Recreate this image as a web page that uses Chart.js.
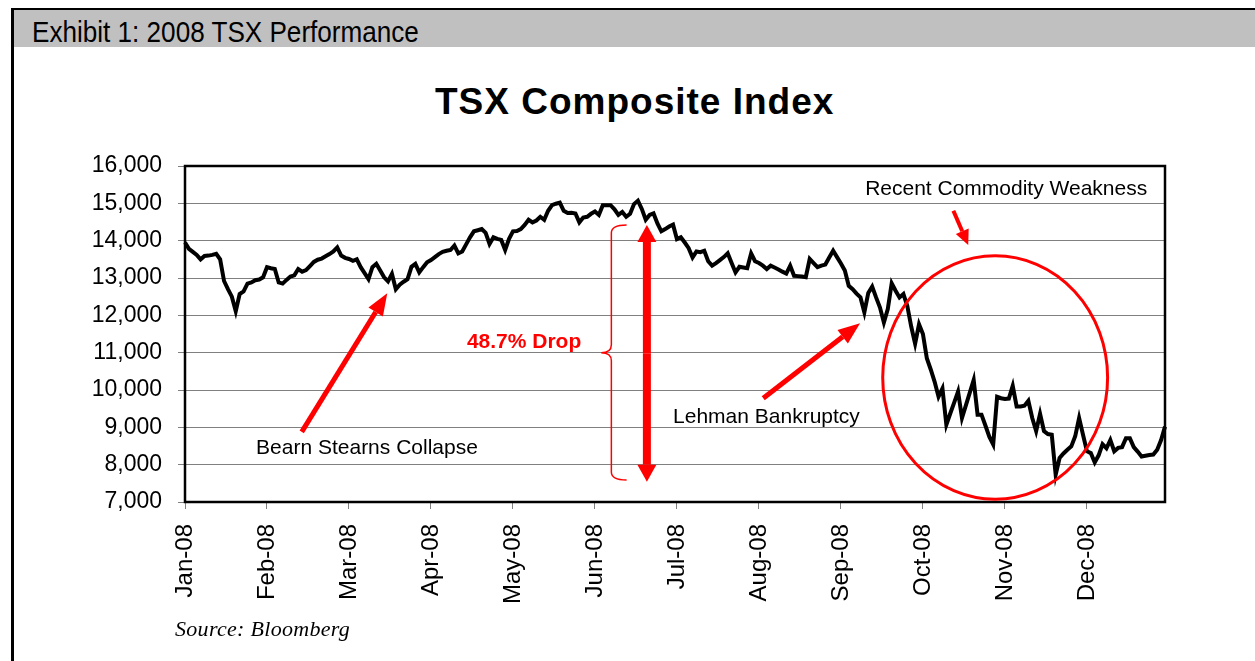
<!DOCTYPE html>
<html>
<head>
<meta charset="utf-8">
<title>TSX Composite Index 2008</title>
<script src="https://cdn.jsdelivr.net/npm/chart.js@4.4.1/dist/chart.umd.min.js"></script>
<style>
  html, body { margin: 0; padding: 0; background: #fff; }
  body { width: 1255px; height: 661px; position: relative; overflow: hidden; font-family: "Liberation Sans", Arial, sans-serif; }
  #frame { position: absolute; left: 11px; top: 8px; width: 1260px; height: 670px; border-left: 3px solid #000; border-top: 2px solid #000; }
  #header { position: absolute; left: 14px; top: 10px; width: 1241px; height: 37px; background: #c0c0c0; }
  #header span { position: absolute; left: 18px; top: 4px; font-size: 30px; line-height: 36px; white-space: nowrap; color: #000; transform: scaleX(0.87); transform-origin: left center; }
  #title { position: absolute; left: 435px; top: 83px; font: bold 37px/1 "Liberation Sans", Arial, sans-serif; letter-spacing: 1px; white-space: nowrap; color: #000; }
  #chartBox { position: absolute; left: 20px; top: 50px; width: 1150px; height: 567px; }
  #source { position: absolute; left: 175px; top: 618px; font: italic 22px/1 "Liberation Serif", "Times New Roman", serif; letter-spacing: 0.3px; color: #000; }
</style>
</head>
<body>
<div id="frame"></div>
<div id="header"><span>Exhibit 1: 2008 TSX Performance</span></div>
<div id="title">TSX Composite Index</div>
<div id="chartBox"><canvas id="tsxChart"></canvas></div>
<div id="source">Source: Bloomberg</div>
<script>
// daily closes (one row per 21 trading days)
const tsxClose = [
  13950, 13780, 13700, 13620, 13500, 13590, 13600, 13620, 13650, 13500, 12920, 12700, 12500, 12110, 12570, 12640, 12850, 12880, 12940, 12960, 13020,
  13290, 13260, 13240, 12880, 12850, 12950, 13040, 13070, 13240, 13170, 13210, 13320, 13430, 13490, 13520, 13580, 13640, 13710, 13820, 13600, 13540,
  13510, 13460, 13500, 13290, 13130, 12970, 13290, 13380, 13200, 13020, 12910, 13110, 12700, 12820, 12900, 12970, 13300, 13380, 13150, 13290, 13420,
  13480, 13560, 13640, 13700, 13730, 13750, 13870, 13660, 13710, 13900, 14090, 14250, 14280, 14310, 14210, 13910, 14090, 14050, 14020, 13750, 14050,
  14250, 14260, 14310, 14420, 14560, 14490, 14540, 14640, 14560, 14800, 14950, 14990, 15020, 14800, 14740, 14750, 14730, 14490, 14620, 14640, 14720,
  14780, 14690, 14950, 14950, 14950, 14840, 14690, 14770, 14640, 14720, 14980, 15070, 14850, 14560, 14690, 14730, 14460, 14250, 14310, 14380, 14430,
  14040, 14090, 13950, 13800, 13550, 13710, 13690, 13730, 13450, 13330, 13400, 13480, 13560, 13660, 13400, 13150, 13300, 13280, 13260, 13660, 13450,
  13400, 13330, 13240, 13330, 13280, 13230, 13170, 13120, 13330, 13060, 13050, 13040, 13020, 13510, 13400, 13290, 13330, 13360, 13550, 13730, 13560,
  13390, 13200, 12790, 12700, 12580, 12480, 12080, 12600, 12770, 12480, 12210, 11810, 12170, 12860, 12660, 12480, 12570, 12250, 11700, 11240, 11760,
  11500, 10850, 10550, 10220, 9820, 10040, 9070, 9370, 9660, 9960, 9250, 9590, 9930, 10270, 9340, 9340, 9050, 8750, 8540, 9820, 9780,
  9760, 9770, 10110, 9560, 9560, 9580, 9710, 9250, 8900, 9360, 8900, 8820, 8800, 7730, 8180, 8300, 8400, 8490, 8760, 9250, 8800,
  8360, 8310, 8060, 8250, 8550, 8440, 8660, 8360, 8450, 8470, 8710, 8710, 8470, 8350, 8220, 8240, 8260, 8270, 8400, 8660, 9020
];

const monthLabels = ["Jan-08", "Feb-08", "Mar-08", "Apr-08", "May-08", "Jun-08",
                     "Jul-08", "Aug-08", "Sep-08", "Oct-08", "Nov-08", "Dec-08"];
const labelEvery = 21; // Excel put a label on every 21st trading day

const yMin = 7000;
const yMax = 16000;
const yStep = 1000;

const dayLabels = tsxClose.map((_, i) => (i % labelEvery === 0 ? monthLabels[i / labelEvery] : ""));

// callouts, positioned in data space (trading day index, index level)
const RED = "#ff0000";
const notes = {
  bearn: { text: "Bearn Stearns Collapse", at: [18.2, 8280], from: [29.9, 8880], to: [51.8, 12590] },
  drop: { text: "48.7% Drop", at: [72.2, 11117] },
  brace: { x: 109.2, tipX: 106.6, endX: 113.1, top: 14420, mid: 11000, bottom: 7590 },
  bigArrow: { x: 118.3, top: 14420, bottom: 7545 },
  lehman: { text: "Lehman Bankruptcy", at: [125, 9108], from: [148.1, 9778], to: [172.9, 11787] },
  commodity: { text: "Recent Commodity Weakness", at: [174.2, 15223], from: [196.8, 14803], to: [200.6, 13884] },
  circle: { x: 207.5, y: 10335, rx: 28.8, ry: 3260 }
};

function arrow(ctx, x1, y1, x2, y2, shaft, headLen, headW) {
  const ang = Math.atan2(y2 - y1, x2 - x1);
  const bx = x2 - headLen * Math.cos(ang);
  const by = y2 - headLen * Math.sin(ang);
  ctx.lineWidth = shaft;
  ctx.lineCap = "butt";
  ctx.beginPath();
  ctx.moveTo(x1, y1);
  ctx.lineTo(bx, by);
  ctx.stroke();
  const nx = Math.sin(ang) * headW / 2, ny = -Math.cos(ang) * headW / 2;
  ctx.beginPath();
  ctx.moveTo(x2, y2);
  ctx.lineTo(bx + nx, by + ny);
  ctx.lineTo(bx - nx, by - ny);
  ctx.closePath();
  ctx.fill();
}

const calloutPlugin = {
  id: "callouts",
  beforeDatasetsDraw(chart) {
    const { ctx, chartArea: a } = chart;
    ctx.save();
    ctx.strokeStyle = "#000";
    ctx.lineWidth = 2.5;
    ctx.strokeRect(a.left, a.top, a.right - a.left, a.bottom - a.top);
    ctx.restore();
  },
  afterDatasetsDraw(chart) {
    const { ctx, scales } = chart;
    const X = (v) => scales.x.getPixelForValue(v);
    const Y = (v) => scales.y.getPixelForValue(v);
    ctx.save();
    ctx.fillStyle = "#000";
    ctx.textBaseline = "alphabetic";
    ctx.textAlign = "left";
    ctx.font = '21px "Liberation Sans", Arial, sans-serif';
    [notes.bearn, notes.lehman, notes.commodity].forEach((n) => ctx.fillText(n.text, X(n.at[0]), Y(n.at[1])));

    ctx.fillStyle = RED;
    ctx.strokeStyle = RED;
    ctx.font = 'bold 21px "Liberation Sans", Arial, sans-serif';
    ctx.fillText(notes.drop.text, X(notes.drop.at[0]), Y(notes.drop.at[1]));

    arrow(ctx, X(notes.bearn.from[0]), Y(notes.bearn.from[1]), X(notes.bearn.to[0]), Y(notes.bearn.to[1]), 5, 22, 17);
    arrow(ctx, X(notes.lehman.from[0]), Y(notes.lehman.from[1]), X(notes.lehman.to[0]), Y(notes.lehman.to[1]), 5, 22, 17);
    arrow(ctx, X(notes.commodity.from[0]), Y(notes.commodity.from[1]), X(notes.commodity.to[0]), Y(notes.commodity.to[1]), 4, 15, 14);

    // double headed drop arrow
    const bx = X(notes.bigArrow.x), bt = Y(notes.bigArrow.top), bb = Y(notes.bigArrow.bottom);
    const mid = (bt + bb) / 2;
    arrow(ctx, bx, mid, bx, bt, 8, 17, 19);
    arrow(ctx, bx, mid, bx, bb, 8, 17, 19);

    // curly brace
    const b = notes.brace;
    const xb = X(b.x), xt = X(b.tipX), xe = X(b.endX);
    const yt = Y(b.top), ym = Y(b.mid), yb = Y(b.bottom);
    ctx.lineWidth = 1.5;
    ctx.beginPath();
    ctx.moveTo(xe, yt);
    ctx.quadraticCurveTo(xb, yt, xb, yt + 8);
    ctx.lineTo(xb, ym - 8);
    ctx.quadraticCurveTo(xb, ym, xt, ym);
    ctx.quadraticCurveTo(xb, ym, xb, ym + 8);
    ctx.lineTo(xb, yb - 8);
    ctx.quadraticCurveTo(xb, yb, xe, yb);
    ctx.stroke();

    // circle round the autumn slide
    const c = notes.circle;
    const cx = X(c.x), cy = Y(c.y);
    const rx = X(c.x + c.rx) - cx, ry = cy - Y(c.y + c.ry);
    ctx.lineWidth = 3;
    ctx.beginPath();
    ctx.ellipse(cx, cy, rx, ry, 0, 0, Math.PI * 2);
    ctx.stroke();
    ctx.restore();
  }
};

Chart.defaults.font.family = '"Liberation Sans", Arial, sans-serif';
Chart.defaults.color = "#000";

new Chart(document.getElementById("tsxChart").getContext("2d"), {
  type: "line",
  data: {
    labels: dayLabels,
    datasets: [{
      label: "TSX Composite",
      data: tsxClose,
      borderColor: "#000",
      borderWidth: 4,
      pointRadius: 0,
      tension: 0,
      fill: false
    }]
  },
  options: {
    responsive: true,
    maintainAspectRatio: false,
    animation: false,
    layout: { padding: { left: 0, right: 5, top: 116, bottom: 5 } },
    plugins: {
      legend: { display: false },
      tooltip: { enabled: false },
      title: { display: false }
    },
    scales: {
      x: {
        type: "category",
        offset: false,
        border: { display: false },
        grid: {
          drawOnChartArea: false,
          drawTicks: true,
          tickLength: 7,
          tickColor: (ctx) => (dayLabels[ctx.index] ? "#808080" : "rgba(0,0,0,0)")
        },
        ticks: {
          autoSkip: false,
          minRotation: 90,
          maxRotation: 90,
          padding: 15,
          font: { size: 24 },
          callback: (value, i) => dayLabels[i]
        },
        afterFit: (scale) => {
          scale.height = 110;
          scale.paddingLeft = 0;
          scale.paddingRight = 0;
        }
      },
      y: {
        min: yMin,
        max: yMax,
        border: { display: false },
        grid: { color: "#808080", lineWidth: 1, tickLength: 7, tickColor: "#808080" },
        ticks: {
          stepSize: yStep,
          padding: 16,
          font: { size: 23 },
          callback: (value) => value.toLocaleString("en-US")
        },
        afterFit: (scale) => { scale.width = 165; }
      }
    }
  },
  plugins: [calloutPlugin]
});
</script>
</body>
</html>
